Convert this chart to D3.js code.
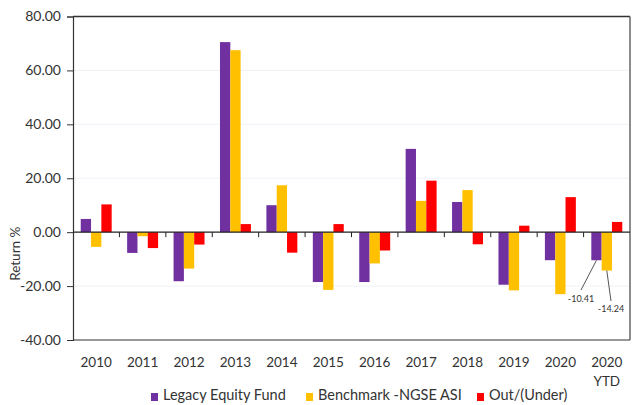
<!DOCTYPE html>
<html>
<head>
<meta charset="utf-8">
<script src="https://cdn.jsdelivr.net/npm/d3@7"></script>
<style>
  body { margin: 0; background: #fff; }
  text { font-family: Lato, "Open Sans", sans-serif; fill: #333; }
</style>
</head>
<body>
<div id="chart"></div>
<script>
const width = 638
const height = 405

const years = ['2010', '2011', '2012', '2013', '2014', '2015', '2016', '2017', '2018', '2019', '2020', '2020 YTD']
const seriesNames = ['Legacy Equity Fund', 'Benchmark -NGSE ASI', 'Out/(Under)']
const fund = [4.9, -7.7, -18.2, 70.5, 10.0, -18.5, -18.5, 30.9, 11.2, -19.5, -10.4, -10.41]
const benchmark = [-5.45, -1.5, -13.5, 67.5, 17.4, -21.4, -11.6, 11.6, 15.6, -21.6, -23.0, -14.24]
const outUnder = [10.3, -5.9, -4.6, 3.0, -7.6, 3.0, -6.8, 19.1, -4.5, 2.4, 13.0, 3.8]
const yTicks = [-40, -20, 0, 20, 40, 60, 80]
const colours = ['#7030A0', '#FFC000', '#FF0000']

const margin = { top: 16.5, right: 8, bottom: 65, left: 73 }

const svg = d3.select('#chart')
  .append('svg')
  .attr('width', width)
  .attr('height', height)

const x0 = d3.scaleBand()
  .domain(years)
  .range([margin.left, width - margin.right])

const x1 = d3.scaleBand()
  .domain(seriesNames)
  .range([0, x0.bandwidth()])
  .paddingOuter(0.75)

const y = d3.scaleLinear()
  .domain([-40, 80])
  .range([height - margin.bottom, margin.top])

// faint gridlines
svg.append('g')
  .selectAll('line')
  .data(yTicks.filter(d => d !== 0 && d !== 80 && d !== -40))
  .join('line')
  .attr('x1', margin.left)
  .attr('x2', width - margin.right)
  .attr('y1', d => y(d))
  .attr('y2', d => y(d))
  .attr('stroke', '#eef2f8')

// frame
svg.append('line')
  .attr('x1', margin.left).attr('x2', width - margin.right)
  .attr('y1', y(80)).attr('y2', y(80))
  .attr('stroke', '#333').attr('stroke-width', 1.5)
svg.append('line')
  .attr('x1', width - margin.right).attr('x2', width - margin.right)
  .attr('y1', y(80)).attr('y2', y(-40))
  .attr('stroke', '#666').attr('stroke-width', 1.5)
svg.append('line')
  .attr('x1', margin.left).attr('x2', width - margin.right)
  .attr('y1', y(-40)).attr('y2', y(-40))
  .attr('stroke', '#333').attr('stroke-width', 1.2)

// bars
const table = years.map((yr, i) => ({ year: yr, values: [fund[i], benchmark[i], outUnder[i]] }))

svg.append('g')
  .selectAll('g')
  .data(table)
  .join('g')
  .attr('transform', d => `translate(${x0(d.year)},0)`)
  .selectAll('rect')
  .data(d => d.values.map((v, k) => ({ key: seriesNames[k], value: v, k })))
  .join('rect')
  .attr('x', d => x1(d.key))
  .attr('width', x1.bandwidth())
  .attr('y', d => y(Math.max(0, d.value)))
  .attr('height', d => Math.abs(y(d.value) - y(0)))
  .attr('fill', d => colours[d.k])

// y axis
const yAxis = svg.append('g')
  .attr('transform', `translate(${margin.left},0)`)
  .call(d3.axisLeft(y).tickValues(yTicks).tickFormat(d => d.toFixed(2)).tickSizeOuter(0).tickSize(6))
yAxis.select('.domain').attr('stroke', '#333').attr('stroke-width', 1.2)
yAxis.selectAll('.tick line').attr('stroke', '#333')
yAxis.selectAll('.tick text')
  .attr('x', -12)
  .style('font-size', '14px')
  .style('font-family', 'Lato, sans-serif')
  .attr('fill', '#333')

// zero line with category ticks hanging below
svg.append('line')
  .attr('x1', margin.left).attr('x2', width - margin.right)
  .attr('y1', y(0)).attr('y2', y(0))
  .attr('stroke', '#222').attr('stroke-width', 1.2)

svg.append('g')
  .selectAll('line')
  .data(years.slice(1))
  .join('line')
  .attr('x1', d => x0(d))
  .attr('x2', d => x0(d))
  .attr('y1', y(0))
  .attr('y2', y(0) + 5)
  .attr('stroke', '#222')

// category labels
const catLabels = svg.append('g')
  .selectAll('text')
  .data(years)
  .join('text')
  .attr('x', d => x0(d) + x0.bandwidth() / 2)
  .attr('y', height - margin.bottom + 27)
  .attr('text-anchor', 'middle')
  .style('font-size', '13.5px')
catLabels.each(function (d) {
  const parts = d.split(' ')
  d3.select(this).selectAll('tspan')
    .data(parts)
    .join('tspan')
    .attr('x', x0(d) + x0.bandwidth() / 2)
    .attr('dy', (p, i) => i === 0 ? 0 : 19)
    .text(p => p)
})

// y axis title
svg.append('text')
  .attr('transform', `translate(20,${y(-8)}) rotate(-90)`)
  .attr('text-anchor', 'middle')
  .style('font-size', '13.5px')
  .text('Return %')

// annotations for 2020 YTD
const ytd = years[years.length - 1]
const notes = [
  { k: 0, value: fund[fund.length - 1], lx: 581, ly: 290, tx: 581, ty: 302, dx: 0.5 },
  { k: 1, value: benchmark[benchmark.length - 1], lx: 611, ly: 301, tx: 611, ty: 312, dx: 0.5 }
]
notes.forEach(n => {
  const bx = x0(ytd) + x1(seriesNames[n.k]) + x1.bandwidth() * n.dx
  svg.append('line')
    .attr('x1', bx).attr('y1', y(n.value))
    .attr('x2', n.lx).attr('y2', n.ly)
    .attr('stroke', '#555').attr('stroke-width', 1)
  svg.append('text')
    .attr('x', n.tx).attr('y', n.ty)
    .attr('text-anchor', 'middle')
    .style('font-size', '9px')
    .attr('fill', '#444')
    .text(n.value.toFixed(2))
})

// legend
const legendX = [151, 306, 477]
const legend = svg.append('g')
  .selectAll('g')
  .data(seriesNames)
  .join('g')
  .attr('transform', (d, i) => `translate(${legendX[i]},${height - 5})`)
legend.append('rect')
  .attr('width', 7).attr('height', 8).attr('y', -7)
  .attr('fill', (d, i) => colours[i])
legend.append('text')
  .attr('x', 12)
  .attr('y', 0)
  .style('font-size', '14.5px')
  .text(d => d)
</script>
</body>
</html>
